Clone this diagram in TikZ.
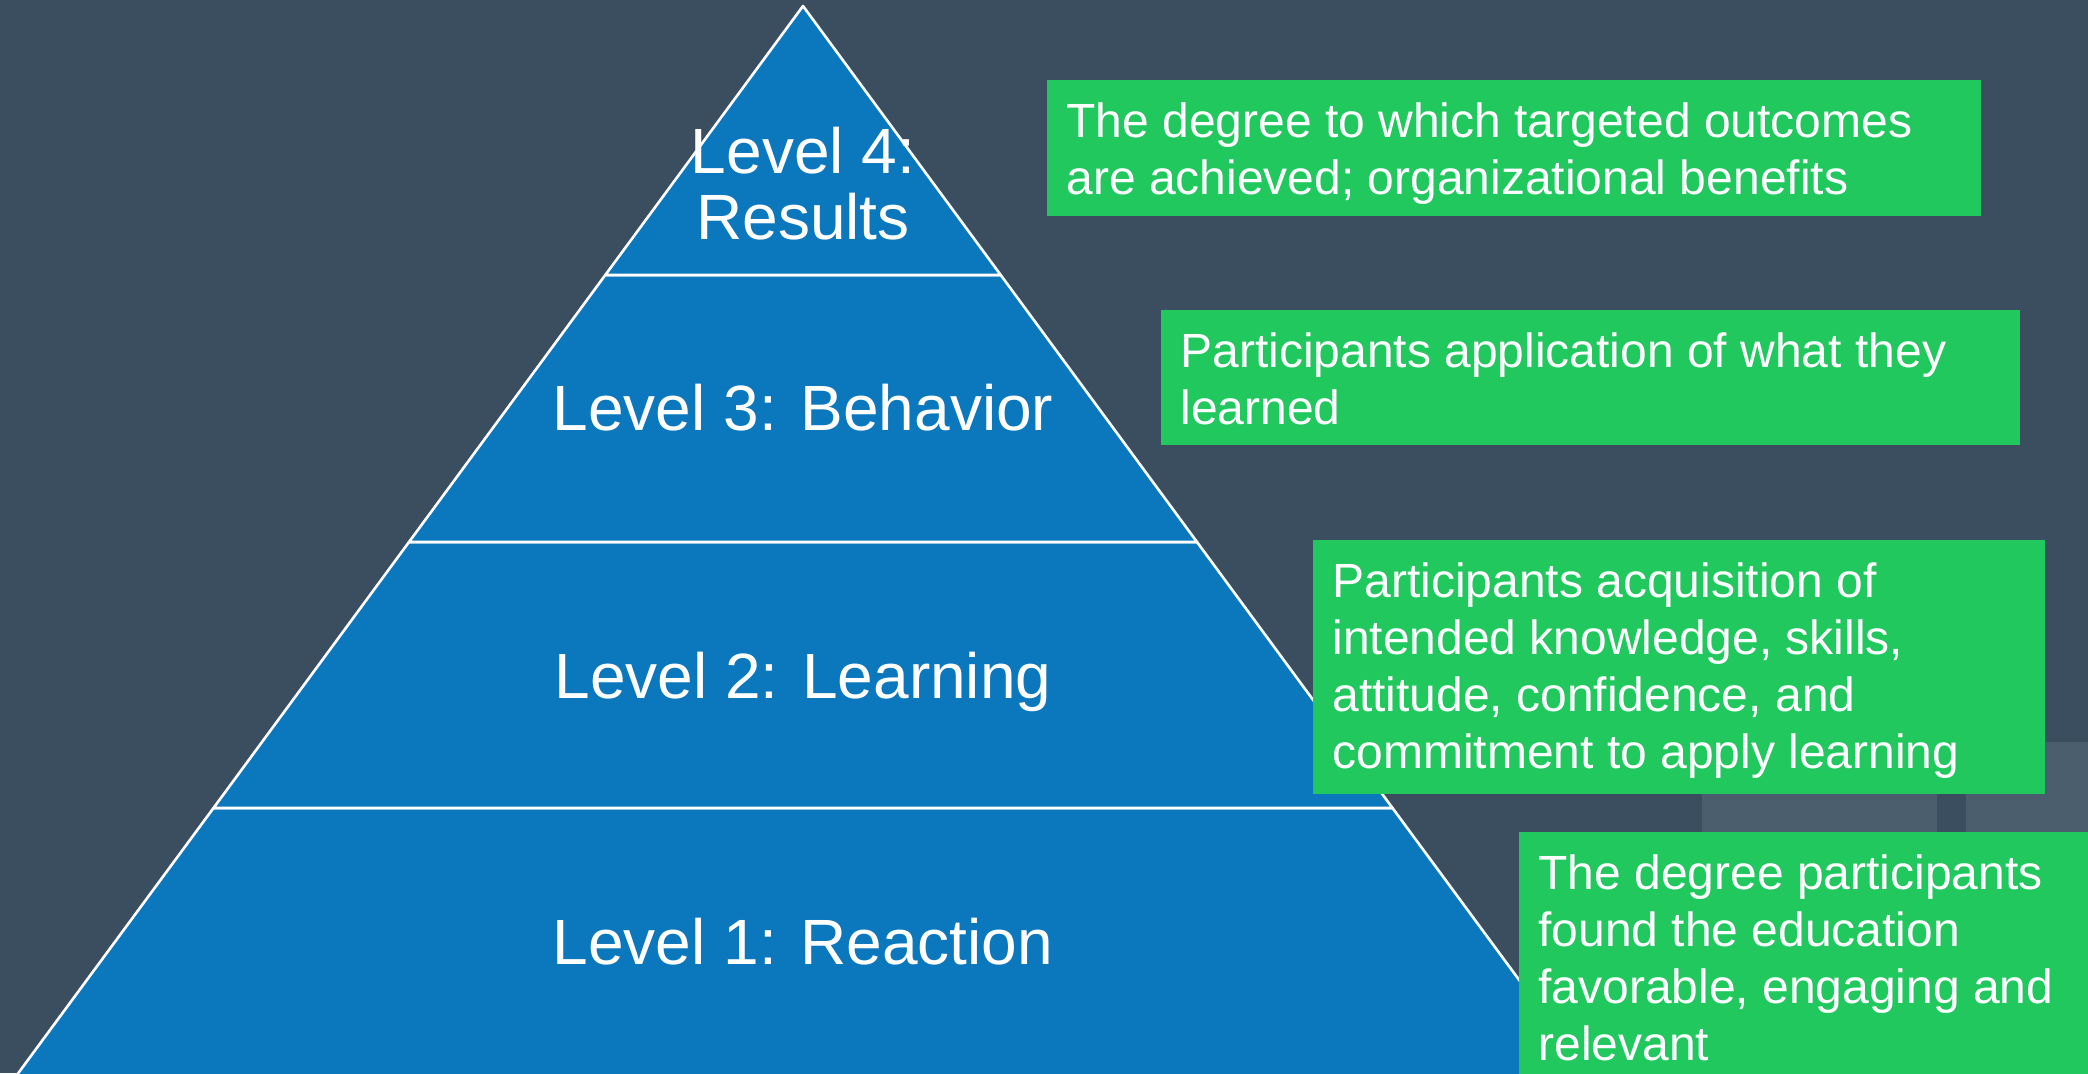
\documentclass[tikz,border=0pt]{standalone}
\usepackage{fontspec}
\setmainfont{Liberation Sans}
\definecolor{bgslate}{RGB}{58,78,96}
\definecolor{tilegray}{RGB}{75,94,110}
\definecolor{pyrblue}{RGB}{11,119,189}
\definecolor{notegreen}{RGB}{33,200,94}
\begin{document}
\begin{tikzpicture}[x=0.5pt,y=-0.5pt,
  tier/.style={fill=pyrblue,draw=white,line width=1.3pt,line join=round},
  levellabel/.style={text=white,font=\fontsize{32}{33}\selectfont,inner sep=0pt,align=center},
  notebox/.style={fill=notegreen,draw=none,inner sep=0pt,anchor=north west},
  notetext/.style={text=white,font=\fontsize{24}{28.5}\selectfont,inner sep=0pt,align=left,anchor=base west}
]
\useasboundingbox (0,0) rectangle (2088,1073);
\clip (0,0) rectangle (2088,1073);

% backdrop and the two lighter tiles at the lower right
\fill[bgslate] (0,0) rectangle (2088,1073);
\fill[tilegray] (1702,742) rectangle (1937,1080);
\fill[tilegray] (1966,742) rectangle (2095,1080);

% pyramid corners
\coordinate (apex) at (803,6);
\coordinate (a3l) at (605.3,275);  \coordinate (a3r) at (1000.7,275);
\coordinate (a2l) at (409,542);    \coordinate (a2r) at (1197,542);
\coordinate (a1l) at (213.5,808);  \coordinate (a1r) at (1392.5,808);
\coordinate (a0l) at (11,1083);    \coordinate (a0r) at (1595,1083);

% pyramid tiers
\path[tier] (a1l) -- (a1r) -- (a0r) -- (a0l) -- cycle;
\path[tier] (a2l) -- (a2r) -- (a1r) -- (a1l) -- cycle;
\path[tier] (a3l) -- (a3r) -- (a2r) -- (a2l) -- cycle;
\path[tier] (apex) -- (a3r) -- (a3l) -- cycle;

% tier labels
\node[levellabel] (lv4) at (803,184) {Level 4:\\Results};
\node[levellabel,anchor=base] (lv3) at (803,430) {Level 3: Behavior};
\node[levellabel,anchor=base] (lv2) at (803,698) {Level 2: Learning};
\node[levellabel,anchor=base] (lv1) at (803,964) {Level 1: Reaction};

% description boxes
\node[notebox,minimum width=467pt,minimum height=68pt] (d4) at (1047,80) {};
\node[notebox,minimum width=429.5pt,minimum height=67.5pt] (d3) at (1161,310) {};
\node[notebox,minimum width=366pt,minimum height=127pt] (d2) at (1313,540) {};
\node[notebox,minimum width=290.5pt,minimum height=129pt] (d1) at (1519,832) {};

% text is placed by the baseline of its last line (57px per line)
\node[notetext] (t4) at ([shift={(19,114)}]d4.north west)
  {The degree to which targeted outcomes\\are achieved; organizational benefits};
\node[notetext] (t3) at ([shift={(19,114)}]d3.north west)
  {Participants application of what they\\learned};
\node[notetext] (t2) at ([shift={(19,228)}]d2.north west)
  {Participants acquisition of\\intended knowledge, skills,\\attitude, confidence, and\\commitment to apply learning};
\node[notetext] (t1) at ([shift={(19,228)}]d1.north west)
  {The degree participants\\found the education\\favorable, engaging and\\relevant};
\end{tikzpicture}
\end{document}
